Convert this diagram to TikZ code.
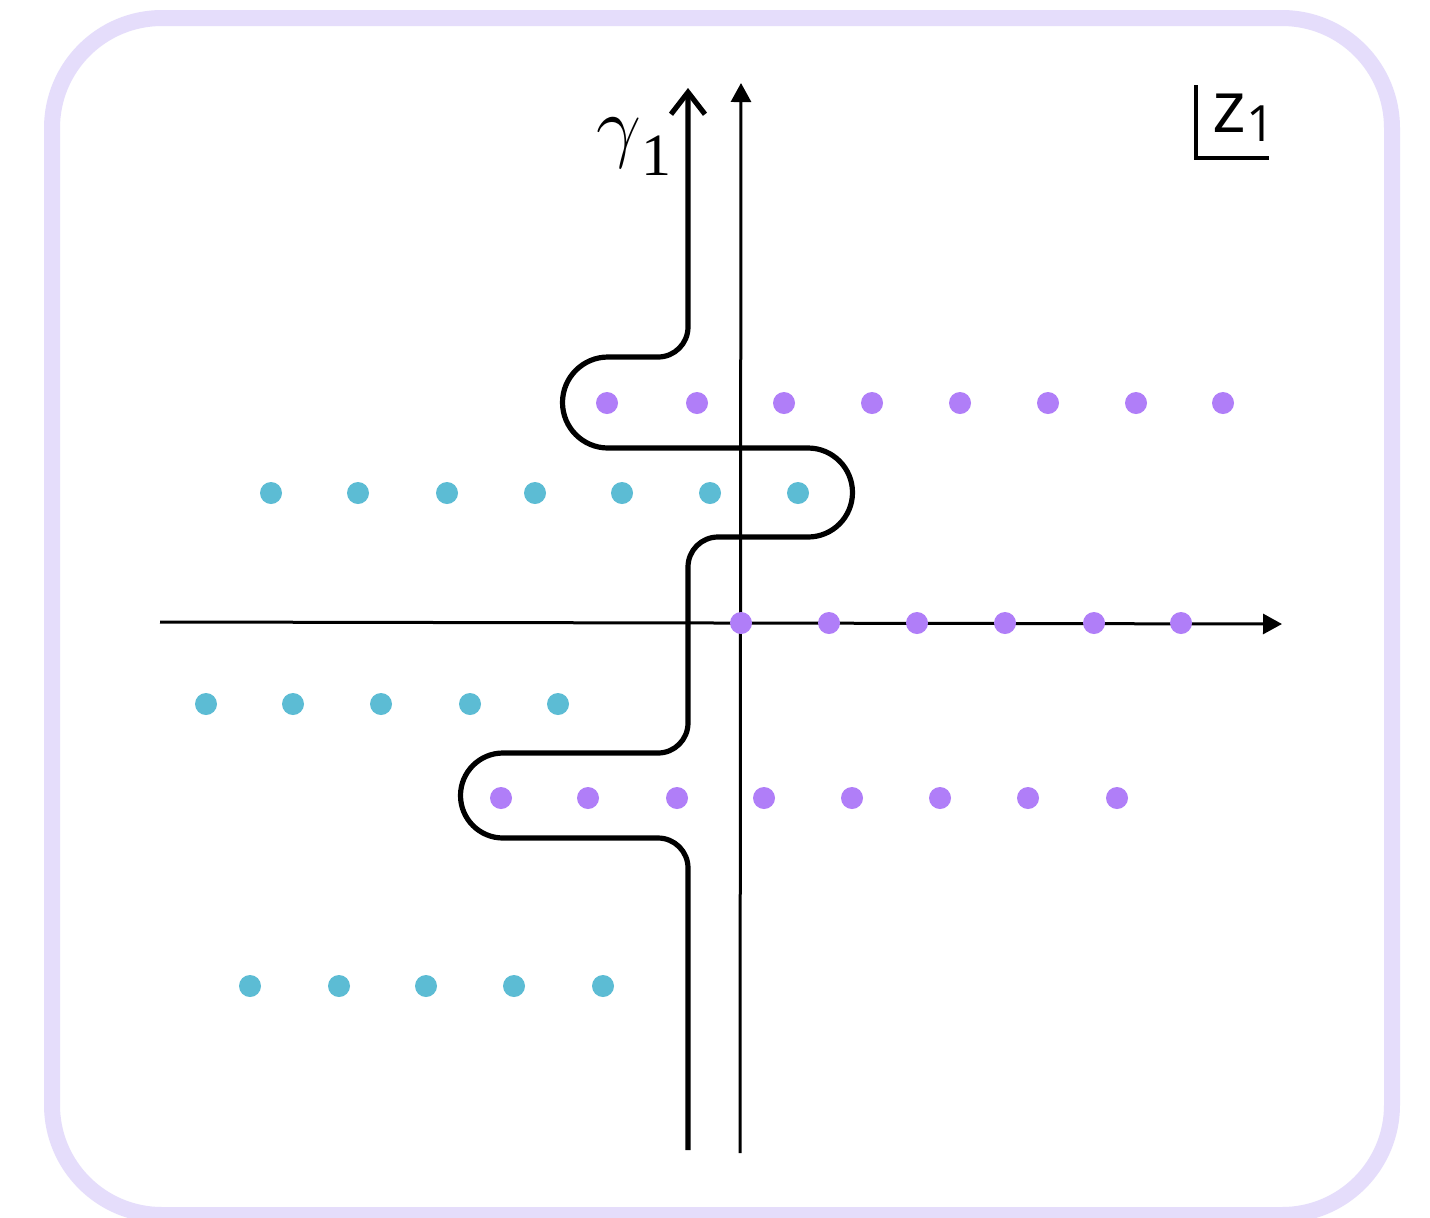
\RequirePackage{fix-cm}
\documentclass[tikz,border=0pt]{standalone}
\usepackage{fontspec}
\newfontfamily\tnr{Liberation Serif}
\newfontfamily\osans{Open Sans}
\usetikzlibrary{arrows.meta}
\definecolor{framec}{HTML}{E5DDFB}
\definecolor{purpdot}{HTML}{B07EF8}
\definecolor{tealdot}{HTML}{5CBCD4}
\begin{document}
\begin{tikzpicture}[x=0.5pt,y=-0.5pt,
  pdot/.style={circle,fill=purpdot,inner sep=0pt,minimum size=11pt},
  tdot/.style={circle,fill=tealdot,inner sep=0pt,minimum size=11pt},
  axisline/.style={line width=1.5pt,-{Triangle[length=9.5pt,width=10pt]}},
  gamline/.style={line width=2.6pt,line join=round,-{Straight Barb[length=11pt,width=17pt]}}]
\useasboundingbox (0,0) rectangle (1430,1217);
\fill[white] (0,0) rectangle (1430,1217);
\draw[framec,line width=8pt,rounded corners=55pt] (52,18) rectangle (1392,1215);
% axes
\coordinate (hL) at (160,622);
\coordinate (hR) at (1282,624);
\coordinate (vB) at (740,1153);
\coordinate (vT) at (741,83);
\draw[axisline] (hL) -- (hR);
\draw[axisline] (vB) -- (vT);
% dots
\foreach \x [count=\i] in {607,697,784,872,960,1048,1136,1223}
  \node[pdot] (pa\i) at (\x,403) {};
\foreach \x [count=\i] in {271,358,447,535,622,710,798}
  \node[tdot] (ta\i) at (\x,493) {};
\foreach \x [count=\i] in {741,829,917,1005,1094,1181}
  \node[pdot] (pb\i) at (\x,623) {};
\foreach \x [count=\i] in {206,293,381,470,558}
  \node[tdot] (tb\i) at (\x,704) {};
\foreach \x [count=\i] in {501,588,677,764,852,940,1028,1117}
  \node[pdot] (pc\i) at (\x,798) {};
\foreach \x [count=\i] in {250,339,426,514,603}
  \node[tdot] (tc\i) at (\x,986) {};
% contour gamma_1
\coordinate (gS) at (688,1150);
\coordinate (gE) at (688,88);
\draw[gamline] (gS) -- (688,868) arc(0:-90:30) -- (503,838) arc(90:270:42.5)
  -- (658,753) arc(90:0:30) -- (688,567) arc(180:270:30) -- (808,537)
  arc(90:-90:44.5) -- (608,448) arc(90:270:45.5) -- (658,357) arc(90:0:30) -- (gE);
% labels
\node[anchor=base west,inner sep=0pt] (g1) at (596,152)
  {\fontsize{40}{40}\selectfont$\gamma$\raisebox{-11.5pt}{\tnr\fontsize{30}{30}\selectfont 1}};
\coordinate (zc) at (1196,158);
\draw[line width=1.7pt] (1196,85) -- (zc) -- (1269,158);
\node[anchor=base west,inner sep=0pt] (z1) at (1212,132)
  {\osans\fontsize{36}{36}\selectfont z\raisebox{-4.5pt}{\fontsize{25}{25}\selectfont 1}};
\end{tikzpicture}
\end{document}
